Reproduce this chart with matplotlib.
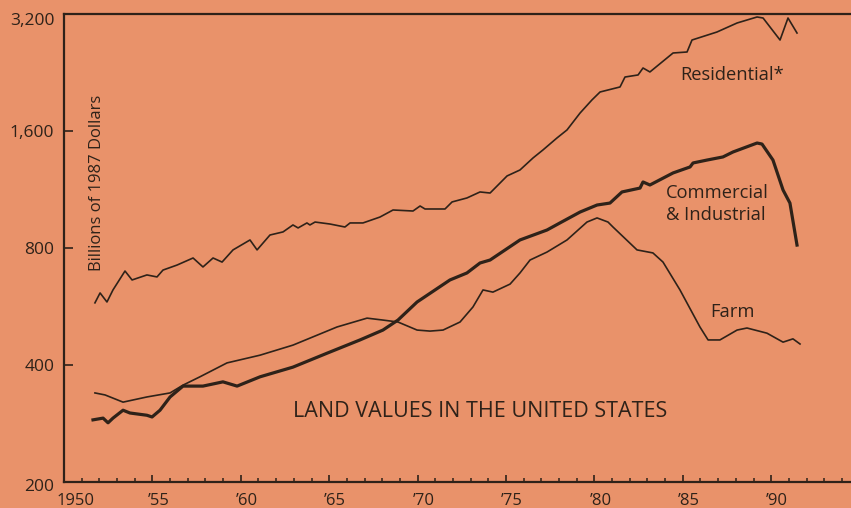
import matplotlib
matplotlib.use('Agg')
import matplotlib.pyplot as plt
from matplotlib.ticker import FixedLocator, MultipleLocator
from matplotlib.transforms import ScaledTranslation

# values (billions of 1987 dollars, log scale)
res_years = [1951.75, 1952.04, 1952.43, 1952.77, 1953.45, 1953.85, 1954.69, 1955.26, 1955.60,
             1956.39, 1957.30, 1957.86, 1958.43, 1958.94, 1959.56, 1960.52, 1960.92, 1961.65,
             1962.39, 1962.95, 1963.24, 1963.74, 1963.91, 1964.20, 1965.05, 1965.89, 1966.18,
             1966.91, 1967.87, 1968.61, 1969.74, 1970.14, 1970.42, 1971.55, 1971.95, 1972.79,
             1973.53, 1974.10, 1975.06, 1975.79, 1976.53, 1977.09, 1977.88, 1978.45, 1979.19,
             1979.86, 1980.32, 1981.45, 1981.73, 1982.47, 1982.75, 1983.14, 1984.45, 1985.24,
             1985.52, 1986.93, 1988.07, 1989.20, 1989.54, 1990.50, 1990.95, 1991.46]
residential = [578, 613, 581, 624, 698, 662, 682, 674, 702,
               723, 754, 715, 754, 736, 791, 839, 791, 864,
               880, 917, 901, 928, 917, 933, 922, 906, 928,
               928, 961, 1002, 996, 1026, 1008, 1008, 1051, 1076,
               1115, 1108, 1226, 1270, 1364, 1430, 1535, 1610, 1780,
               1923, 2016, 2077, 2203, 2230, 2324, 2270, 2540, 2555,
               2743, 2876, 3034, 3144, 3125, 2743, 3125, 2859]

com_years = [1951.64, 1952.21, 1952.49, 1952.77, 1953.34, 1953.73, 1954.69, 1954.98, 1955.43,
             1956.00, 1956.73, 1957.86, 1958.99, 1959.79, 1961.09, 1962.95, 1964.88, 1966.74,
             1968.04, 1968.89, 1969.97, 1970.31, 1971.83, 1972.79, 1973.53, 1974.10, 1975.79,
             1977.32, 1978.05, 1979.19, 1980.15, 1980.88, 1981.56, 1982.58, 1982.75, 1983.14,
             1984.45, 1985.41, 1985.58, 1986.37, 1987.27, 1987.84, 1989.20, 1989.48, 1990.10,
             1990.67, 1991.06, 1991.46]
commercial = [289, 292, 284, 292, 306, 301, 297, 294, 306,
              331, 353, 353, 362, 353, 373, 395, 429, 464,
              492, 522, 581, 595, 662, 690, 732, 745, 839,
              890, 928, 990, 1032, 1044, 1115, 1141, 1183, 1162,
              1248, 1293, 1324, 1347, 1372, 1413, 1490, 1481, 1347,
              1128, 1044, 814]

farm_years = [1951.75, 1952.32, 1953.34, 1954.69, 1956.00, 1956.73, 1957.69, 1959.22, 1961.09,
              1962.95, 1965.44, 1967.14, 1968.04, 1968.89, 1969.97, 1970.70, 1971.44, 1972.40,
              1973.13, 1973.70, 1974.26, 1975.23, 1975.79, 1976.36, 1977.32, 1978.45, 1979.58,
              1980.15, 1980.77, 1981.05, 1982.41, 1983.31, 1983.88, 1984.84, 1985.97, 1986.43,
              1987.10, 1988.07, 1988.63, 1989.76, 1990.67, 1991.23, 1991.63]
farm = [339, 335, 321, 331, 339, 355, 373, 405, 424,
        450, 501, 528, 522, 516, 492, 489, 492, 516,
        564, 624, 616, 646, 690, 745, 781, 839, 933,
        956, 933, 906, 791, 777, 736, 624, 501, 464,
        464, 492, 498, 483, 458, 467, 453]

y_ticks = [200, 400, 800, 1600, 3200]
y_labels = ['200', '400', '800', '1,600', '3,200']
x_ticks = [1950, 1955, 1960, 1965, 1970, 1975, 1980, 1985, 1990]
x_labels = ['1950', '\u201955', '\u201960', '\u201965', '\u201970', '\u201975', '\u201980', '\u201985', '\u201990']

bg = '#e9926a'
ink = '#2e2219'
plt.rcParams['font.family'] = ['Open Sans', 'DejaVu Sans']

fig = plt.figure(figsize=(8.51, 5.08), dpi=100, facecolor=bg)
ax = fig.add_axes([64 / 851, 26 / 508, 795.6 / 851, 468 / 508])
ax.set_facecolor(bg)

ax.plot(res_years, residential, color=ink, lw=1.2, solid_joinstyle='round')
ax.plot(farm_years, farm, color=ink, lw=1.2, solid_joinstyle='round')
ax.plot(com_years, commercial, color=ink, lw=2.3, solid_joinstyle='round')

ax.set_yscale('log')
ax.set_ylim(200, 3200)
ax.set_xlim(1950, 1995)

ax.yaxis.set_major_locator(FixedLocator(y_ticks))
ax.yaxis.set_minor_locator(FixedLocator([]))
ax.set_yticklabels(y_labels)
ax.set_xticks(x_ticks)
ax.set_xticklabels(x_labels)
ax.xaxis.set_minor_locator(MultipleLocator(1))

ax.tick_params(axis='y', which='major', direction='in', length=6.5, width=1.2, color=ink,
               labelsize=12.5, labelcolor=ink, pad=7, left=True, right=True)
ax.tick_params(axis='x', which='major', direction='in', length=5, width=1.2, color=ink,
               labelsize=12, labelcolor=ink, pad=8)
ax.tick_params(axis='x', which='minor', direction='in', length=3, width=1.1, color=ink)

for spine in ax.spines.values():
    spine.set_color(ink)
    spine.set_linewidth(1.6)

# printed year labels sit a little right of their ticks
for i, lab in enumerate(ax.get_xticklabels()):
    dx = 12 if i == 0 else 6
    lab.set_transform(lab.get_transform() + ScaledTranslation(dx / 100, 0, fig.dpi_scale_trans))

# end labels on the value axis are nudged down as in the print
ylabs = ax.get_yticklabels()
ylabs[-1].set_transform(ylabs[-1].get_transform() + ScaledTranslation(0, -5 / 100, fig.dpi_scale_trans))
ylabs[0].set_transform(ylabs[0].get_transform() + ScaledTranslation(0, -3 / 100, fig.dpi_scale_trans))

ax.text(1973.53, 303, 'LAND VALUES IN THE UNITED STATES', ha='center', va='center',
        fontsize=15.5, color=ink)
ax.text(1951.87, 1176, 'Billions of 1987 Dollars', rotation=90, ha='center', va='center',
        fontsize=12, color=ink)
ax.text(1984.85, 2230, 'Residential*', ha='left', va='center', fontsize=13.2, color=ink)
ax.text(1984.05, 1108, 'Commercial', ha='left', va='center', fontsize=13.2, color=ink)
ax.text(1984.05, 973, '& Industrial', ha='left', va='center', fontsize=13.2, color=ink)
ax.text(1986.54, 548, 'Farm', ha='left', va='center', fontsize=13.2, color=ink)

fig.savefig('out.png', dpi=100, facecolor=bg)
